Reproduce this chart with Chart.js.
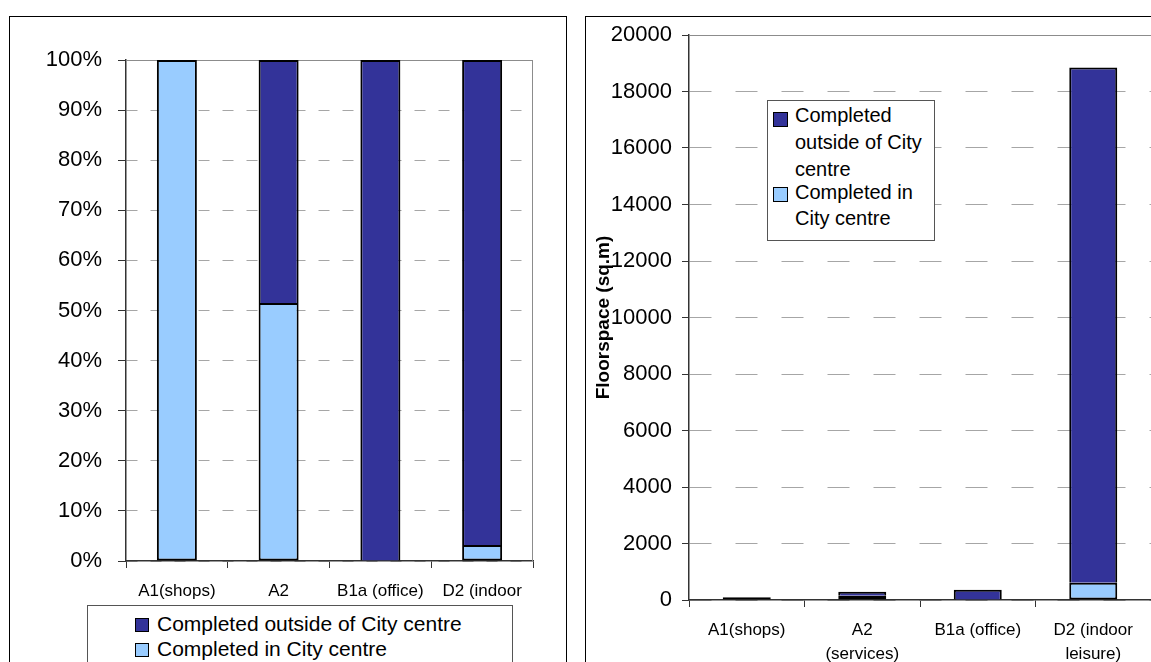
<!DOCTYPE html>
<html>
<head>
<meta charset="utf-8">
<script src="https://cdn.jsdelivr.net/npm/chart.js@4/dist/chart.umd.min.js"></script>
<style>
  html, body { margin: 0; padding: 0; background: #fff; }
  body { width: 1151px; height: 662px; position: relative; overflow: hidden; font-family: 'Liberation Sans', Arial, sans-serif; }
  .frame { position: absolute; border: 1px solid #000; box-sizing: border-box; }
  canvas { position: absolute; top: 0; }
  .legend { position: absolute; border: 1px solid #555; background: #fff; box-sizing: border-box; }
  .item { position: absolute; color: #000; }
  .mark { position: absolute; box-sizing: border-box; border: 1.5px solid #000; }
</style>
</head>
<body>
<div class="frame" style="left:9px;top:16px;width:558px;height:680px;"></div>
<div class="frame" style="left:585px;top:16px;width:600px;height:680px;"></div>
<canvas id="left" width="580" height="662" style="left:0px;"></canvas>
<canvas id="right" width="571" height="662" style="left:580px;"></canvas>
<div id="legL" class="legend" style="left:87px;top:605px;width:426px;height:80px;"></div>
<div id="legR" class="legend" style="left:767px;top:100px;width:168px;height:141px;"></div>
<script>
// ---- data ----
const seriesNames = ['Completed in City centre', 'Completed outside of City centre'];
const seriesColors = ['#99CCFF', '#333399'];

const pctCategories = ['A1(shops)', 'A2', 'B1a (office)', 'D2 (indoor'];
const pctInCity = [100, 51.5, 0, 3.2];
const pctOutside = [0, 48.5, 100, 96.8];
const pctTicks = [0, 10, 20, 30, 40, 50, 60, 70, 80, 90, 100];

const areaCategories = ['A1(shops)', ['A2', '(services)'], 'B1a (office)', ['D2 (indoor', 'leisure)']];
const areaInCity = [100, 150, 0, 615];
const areaOutside = [0, 145, 360, 18235];
const areaTicks = [0, 2000, 4000, 6000, 8000, 10000, 12000, 14000, 16000, 18000, 20000];
const areaAxisTitle = 'Floorspace (sq.m)';

// ---- helpers ----
const FONT = "'Liberation Sans', Arial, sans-serif";
Chart.defaults.font.family = FONT;
Chart.defaults.color = '#000';

const plotFrame = {
  id: 'plotFrame',
  beforeDatasetsDraw(chart, args, opts) {
    const a = chart.chartArea, ctx = chart.ctx;
    ctx.save();
    ctx.strokeStyle = '#8c8c8c';
    ctx.lineWidth = 1;
    ctx.beginPath();
    ctx.moveTo(a.left, a.top + 0.5);
    ctx.lineTo(a.right, a.top + 0.5);
    if (opts.right) {
      ctx.moveTo(a.right - 0.5, a.top);
      ctx.lineTo(a.right - 0.5, a.bottom);
    }
    ctx.stroke();
    ctx.restore();
  }
};

function makeChart(id, cfg) {
  const datasets = [
    { label: seriesNames[0], data: cfg.inCity, backgroundColor: seriesColors[0], borderColor: '#000', borderWidth: 2, borderSkipped: false },
    { label: seriesNames[1], data: cfg.outside, backgroundColor: seriesColors[1], borderColor: '#000', borderWidth: 2, borderSkipped: 'start' }
  ];
  return new Chart(document.getElementById(id), {
    type: 'bar',
    data: { labels: cfg.labels, datasets },
    plugins: [plotFrame],
    options: {
      responsive: false,
      animation: false,
      devicePixelRatio: 1,
      layout: { padding: cfg.padding },
      datasets: { bar: { barPercentage: cfg.barPct, categoryPercentage: 1 } },
      plugins: { legend: { display: false }, tooltip: { enabled: false }, plotFrame: { right: cfg.frameRight } },
      scales: {
        x: {
          stacked: true,
          grid: { display: true, drawOnChartArea: false, drawTicks: true, tickLength: 7, tickColor: '#333', offset: true },
          border: { display: true, color: '#333', width: 1.5 },
          ticks: { font: { size: 17, lineHeight: 24 / 17 }, color: '#000', padding: 11, maxRotation: 0, autoSkip: false },
          afterFit(s) { s.height = cfg.xHeight; }
        },
        y: {
          stacked: true,
          min: cfg.ticks[0],
          max: cfg.ticks[cfg.ticks.length - 1],
          afterBuildTicks(s) { s.ticks = cfg.ticks.map(v => ({ value: v })); },
          grid: { color: '#a6a6a6', lineWidth: 1, tickLength: cfg.tickLen, tickColor: '#333', tickBorderDash: [] },
          border: { display: true, color: '#333', width: 1.5, dash: cfg.dash },
          ticks: { font: { size: 22 }, color: '#000', padding: cfg.tickPad, callback: cfg.fmt },
          title: cfg.title ? { display: true, text: cfg.title, font: { size: 19, weight: 'bold' }, color: '#000', padding: { top: 12.6, bottom: 0 } } : { display: false },
          afterFit(s) { s.width = cfg.yWidth; }
        }
      }
    }
  });
}

makeChart('left', {
  labels: pctCategories, inCity: pctInCity, outside: pctOutside, ticks: pctTicks,
  padding: { top: 60, right: 47, bottom: 0, left: 0 },
  xHeight: 101, yWidth: 126, tickLen: 8, tickPad: 16, barPct: 40 / 101.75,
  dash: [11, 13], fmt: v => v + '%', frameRight: true
});

makeChart('right', {
  labels: areaCategories, inCity: areaInCity, outside: areaOutside, ticks: areaTicks,
  padding: { top: 35, right: 0, bottom: 0, left: 0 },
  xHeight: 62, yWidth: 109, tickLen: 7, tickPad: 10, barPct: 48 / 115.5,
  dash: [22, 24], fmt: v => String(v), frameRight: false, title: areaAxisTitle
});

// ---- HTML legends (built from series arrays) ----
function addItem(box, boxLeft, boxTop, idx, textLeft, textTop, lineH, width, fontSize, markLeft, markTop, markSize) {
  const t = document.createElement('div');
  t.className = 'item';
  t.style.left = (textLeft - boxLeft) + 'px';
  t.style.top = (textTop - boxTop) + 'px';
  t.style.lineHeight = lineH + 'px';
  t.style.fontSize = fontSize + 'px';
  if (width) t.style.width = width + 'px'; else t.style.whiteSpace = 'nowrap';
  t.textContent = seriesNames[idx];
  box.appendChild(t);
  const m = document.createElement('div');
  m.className = 'mark';
  m.style.left = (markLeft - boxLeft) + 'px';
  m.style.top = (markTop - boxTop) + 'px';
  m.style.width = markSize + 'px';
  m.style.height = markSize + 'px';
  m.style.background = seriesColors[idx];
  box.appendChild(m);
}
const legL = document.getElementById('legL');
// order in legend: outside first, then in city
addItem(legL, 88, 606, 1, 157, 610.5, 25, 0, 21, 135, 617.5, 14);
addItem(legL, 88, 606, 0, 157, 635.5, 25, 0, 21, 135, 642.5, 14);
const legR = document.getElementById('legR');
addItem(legR, 768, 101, 1, 795, 101.5, 27, 140, 20, 773, 112, 15);
addItem(legR, 768, 101, 0, 795, 178.5, 26.5, 140, 20, 773, 186.5, 15);
</script>
</body>
</html>
